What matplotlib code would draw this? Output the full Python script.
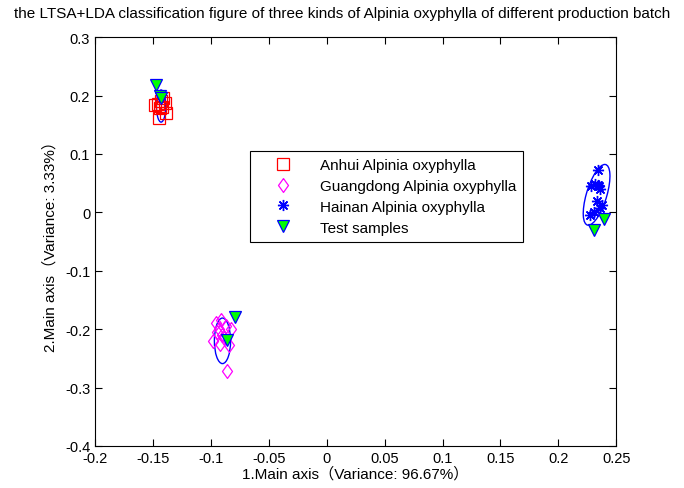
import matplotlib
matplotlib.use("Agg")
import matplotlib.pyplot as plt
from matplotlib.patches import Ellipse

plt.rcParams['font.family'] = ['Liberation Sans', 'Noto Sans CJK SC']

# Anhui samples
anhui_x = [-0.148, -0.145, -0.140, -0.143, -0.139, -0.144, -0.141, -0.146, -0.142]
anhui_y = [0.183, 0.162, 0.187, 0.190, 0.170, 0.178, 0.195, 0.186, 0.180]
# Guangdong samples
gd_x = [-0.096, -0.098, -0.093, -0.090, -0.087, -0.092, -0.084, -0.095, -0.091, -0.086, -0.089, -0.083]
gd_y = [-0.190, -0.220, -0.200, -0.210, -0.195, -0.225, -0.228, -0.205, -0.185, -0.272, -0.215, -0.200]
# Hainan samples
hn_x = [0.234, 0.228, 0.232, 0.235, 0.236, 0.233, 0.238, 0.227, 0.236, 0.231, 0.234]
hn_y = [0.072, 0.045, 0.048, 0.045, 0.040, 0.020, 0.012, -0.005, 0.008, 0.000, 0.046]
# Test samples
test_x = [-0.147, -0.144, -0.143, -0.079, -0.086, 0.231, 0.239]
test_y = [0.218, 0.200, 0.196, -0.180, -0.218, -0.030, -0.012]

# confidence ellipses: centre x, centre y, width, height, angle
ell_cx = [-0.143, -0.090, 0.233]
ell_cy = [0.182, -0.220, 0.030]
ell_w = [0.008, 0.014, 0.018]
ell_h = [0.055, 0.078, 0.105]
ell_a = [0, 0, -8]

diamond = [(0, 1), (0.72, 0), (0, -1), (-0.72, 0), (0, 1)]

fig = plt.figure(figsize=(6.84, 4.89), dpi=100)
ax = fig.add_axes([0.139, 0.086, 0.762, 0.836])

ax.plot(anhui_x, anhui_y, 's', mfc='none', mec='red', ms=8, mew=0.9,
        label='Anhui Alpinia oxyphylla')
ax.plot(gd_x, gd_y, marker=diamond, ls='none', mfc='none', mec='magenta', ms=10, mew=0.9,
        label='Guangdong Alpinia oxyphylla')
ax.plot(hn_x, hn_y, marker=(8, 2, 0), ls='none', color='blue', ms=8, mew=1,
        label='Hainan Alpinia oxyphylla')
ax.plot(test_x, test_y, 'v', mfc='#00ff00', mec='blue', ms=8, mew=0.9,
        label='Test samples')

for cx, cy, w, h, a in zip(ell_cx, ell_cy, ell_w, ell_h, ell_a):
    ax.add_patch(Ellipse((cx, cy), w, h, angle=a, fill=False, ec='blue', lw=1))

ax.set_xlim(-0.2, 0.25)
ax.set_ylim(-0.4, 0.3)
ax.set_xticks([-0.2, -0.15, -0.1, -0.05, 0, 0.05, 0.1, 0.15, 0.2, 0.25])
ax.set_xticklabels(['-0.2', '-0.15', '-0.1', '-0.05', '0', '0.05', '0.1', '0.15', '0.2', '0.25'])
ax.set_yticks([-0.4, -0.3, -0.2, -0.1, 0, 0.1, 0.2, 0.3])
ax.set_yticklabels(['-0.4', '-0.3', '-0.2', '-0.1', '0', '0.1', '0.2', '0.3'])
ax.tick_params(direction='in', top=True, right=True, labelsize=10.5, length=5)
for s in ax.spines.values():
    s.set_linewidth(0.8)

ax.set_xlabel('1.Main axis（Variance: 96.67%）', fontsize=11, labelpad=1)
ax.set_ylabel('2.Main axis（Variance: 3.33%）', fontsize=11, labelpad=5)
fig.text(0.5, 0.972, 'the LTSA+LDA classification figure of three kinds of Alpinia oxyphylla of different production batch',
         fontsize=11, ha='center', va='center')

leg = ax.legend(loc='upper left', bbox_to_anchor=(0.297, 0.721), fontsize=11,
                fancybox=False, edgecolor='black', framealpha=1, borderaxespad=0,
                handlelength=3.45, handletextpad=0.7, borderpad=0.45, labelspacing=0.45)
leg.get_frame().set_linewidth(0.8)

fig.savefig('out.png', dpi=100)
